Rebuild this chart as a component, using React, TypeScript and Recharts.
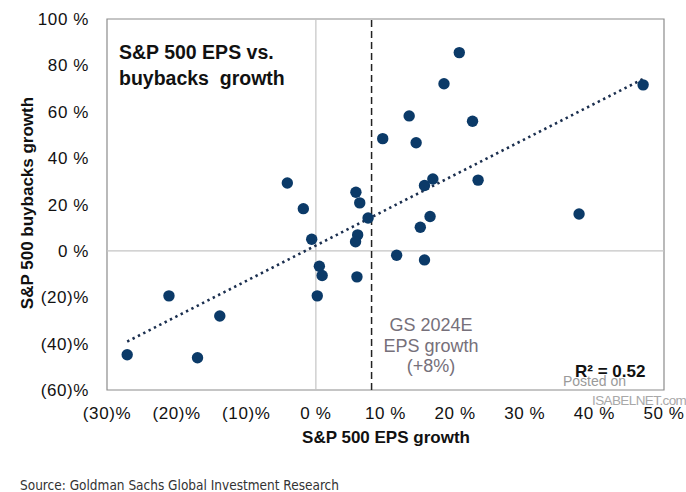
import { ScatterChart, Scatter, XAxis, YAxis, ReferenceLine, ReferenceArea } from "recharts";
import type { CSSProperties } from "react";

// values (EPS growth %, buybacks growth %)
const epsGrowth = [
  -4.1, -1.8, -0.6, 20.6, 18.4, 47.0, 13.4, 22.5, 9.6, 14.4, 5.75, 6.3, 16.8, 15.6, 23.3, 7.5, 37.8, 16.4, 15.0,
  6.0, 5.7, 11.6, 15.6, 5.9, 0.5, 0.9, 0.2, -21.1, -13.8, -27.1, -17.0,
];
const buybackGrowth = [
  29.3, 18.2, 5.0, 85.5, 72.1, 71.6, 58.2, 55.9, 48.4, 46.6, 25.3, 20.7, 31.0, 28.2, 30.5, 14.2, 15.9, 14.8, 10.2,
  6.9, 3.9, -1.9, -3.9, -11.2, -6.6, -10.6, -19.4, -19.4, -28.1, -44.8, -46.1,
];
const trendX = [-27.1, 47.3];
const trendY = [-39.1, 74.6];
const xTicks = [-30, -20, -10, 0, 10, 20, 30, 40, 50];
const yTicks = [-60, -40, -20, 0, 20, 40, 60, 80, 100];
const gsEstimate = 8;

const points = epsGrowth.map((x, i) => ({ x, y: buybackGrowth[i] }));
const fmt = (v: number) => (v < 0 ? `(${-v})%` : `${v} %`);

const font = "'Liberation Sans', Arial, sans-serif";
const abs = (s: CSSProperties): CSSProperties => ({ position: "absolute", fontFamily: font, whiteSpace: "nowrap", ...s });
const tickStyle = { fontSize: 17, fill: "#111", fontFamily: font, letterSpacing: 0.6 };

export default function App() {
  return (
    <div style={{ position: "absolute", left: 0, top: 0, width: 686, height: 492, background: "#fff", overflow: "hidden" }}>
      <ScatterChart width={686} height={492} margin={{ top: 19, right: 22, bottom: 52, left: 40 }}>
        <XAxis
          type="number"
          dataKey="x"
          domain={[-30, 50]}
          ticks={xTicks}
          tickFormatter={fmt}
          axisLine={false}
          tickLine={false}
          height={50}
          tick={{ ...tickStyle, dy: 9 }}
        />
        <YAxis
          type="number"
          dataKey="y"
          domain={[-60, 100]}
          ticks={yTicks}
          tickFormatter={fmt}
          axisLine={false}
          tickLine={false}
          width={67}
          tick={{ ...tickStyle, dx: -10 }}
        />
        <ReferenceArea x1={-30} x2={50} y1={-60} y2={100} fill="none" stroke="#8c8c8c" strokeWidth={1.2} />
        <ReferenceLine x={0} stroke="#c4c4c4" strokeWidth={1.2} />
        <ReferenceLine y={0} stroke="#c4c4c4" strokeWidth={1.2} />
        <ReferenceLine x={gsEstimate} stroke="#222" strokeWidth={1.5} strokeDasharray="7 4" />
        <ReferenceLine
          segment={[
            { x: trendX[0], y: trendY[0] },
            { x: trendX[1], y: trendY[1] },
          ]}
          stroke="#1b2f4f"
          strokeWidth={2.6}
          strokeDasharray="2.4 3.6"
        />
        <Scatter data={points} fill="#0b3a68" isAnimationActive={false} shape={(p: any) => <circle cx={p.cx} cy={p.cy} r={5.7} fill="#0b3a68" />} />
      </ScatterChart>

      <div style={abs({ left: 119, top: 39, fontSize: 19.5, fontWeight: 700, lineHeight: "26px", color: "#111" })}>
        S&amp;P 500 EPS vs.
        <br />
        buybacks&nbsp; growth
      </div>

      <div style={abs({ left: 366, width: 130, top: 315, fontSize: 18, lineHeight: "20.5px", textAlign: "center", color: "#76707a" })}>
        GS 2024E
        <br />
        EPS growth
        <br />
        (+8%)
      </div>

      <div style={abs({ left: 575, top: 362, fontSize: 17, fontWeight: 700, color: "#111" })}>
        R² = 0.52
      </div>

      <div style={abs({ left: 563, top: 373, fontSize: 14, color: "#9a9a9a" })}>Posted on</div>
      <div style={abs({ left: 592, top: 393, fontSize: 13.5, letterSpacing: -0.6, color: "#a8a8a8" })}>ISABELNET.com</div>

      <div
        style={abs({
          left: 28,
          top: 203,
          transform: "translate(-50%, -50%) rotate(-90deg)",
          fontSize: 17,
          fontWeight: 700,
          color: "#111",
        })}
      >
        S&amp;P 500 buybacks growth
      </div>

      <div style={abs({ left: 386, top: 438, transform: "translate(-50%, -50%)", fontSize: 17, fontWeight: 700, color: "#111" })}>
        S&amp;P 500 EPS growth
      </div>

      <div style={abs({ left: 20, top: 477, fontSize: 13.5, color: "#333", fontFamily: "'DejaVu Sans Condensed', 'DejaVu Sans', sans-serif" })}>
        Source: Goldman Sachs Global Investment Research
      </div>
    </div>
  );
}
